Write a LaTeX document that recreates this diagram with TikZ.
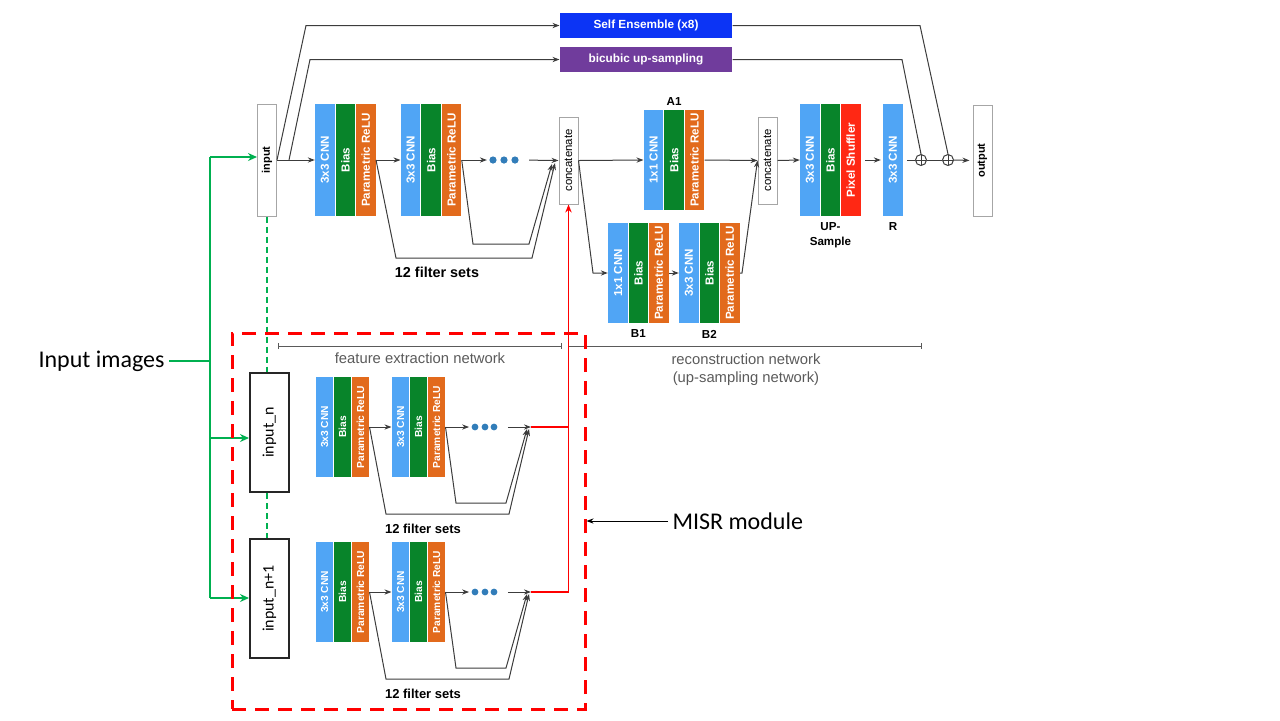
\documentclass[tikz,border=0pt]{standalone}
\usepackage{fontspec}
\setmainfont{Liberation Sans}
\newfontfamily\calib{Carlito}
\usetikzlibrary{arrows.meta,positioning,calc}

\definecolor{cnnblue}{RGB}{80,165,245}
\definecolor{biasgreen}{RGB}{8,132,42}
\definecolor{reluorange}{RGB}{226,106,28}
\definecolor{shufred}{RGB}{255,40,20}
\definecolor{ensblue}{RGB}{12,52,245}
\definecolor{bicpurple}{RGB}{112,60,156}
\definecolor{dotblue}{RGB}{50,125,185}
\definecolor{linegray}{RGB}{60,60,60}
\definecolor{markgray}{RGB}{90,90,90}
\definecolor{imggreen}{RGB}{0,176,80}

\newcommand{\vt}[1]{\rotatebox{90}{#1}}

\tikzset{
  lay/.style={minimum width=9.7pt, minimum height=56pt, inner sep=0pt, text=white,
    font=\bfseries\fontsize{5.8}{6}\selectfont},
  mid/.style={minimum height=50pt},
  small/.style={minimum width=8.5pt, minimum height=50pt, font=\bfseries\fontsize{5.1}{5.5}\selectfont},
  cnn/.style={lay, fill=cnnblue},
  bias/.style={lay, fill=biasgreen},
  relu/.style={lay, fill=reluorange},
  shuf/.style={lay, fill=shufred},
  iobox/.style={draw=black!35, minimum width=9.5pt, minimum height=43.5pt, inner sep=0pt,
    font=\fontsize{5.7}{6}\selectfont},
  topbox/.style={minimum width=86pt, minimum height=12.5pt, inner sep=0pt, text=white,
    font=\bfseries\fontsize{5.9}{6}\selectfont},
  imgbox/.style={draw=black!85, line width=1pt, minimum width=19.5pt, minimum height=59.5pt,
    inner sep=0pt, font=\calib\fontsize{8}{9}\selectfont},
  dot/.style={circle, fill=dotblue, inner sep=0pt, minimum size=3.6pt},
  plus/.style={circle, draw=linegray, inner sep=0pt, minimum size=5.5pt,
    path picture={\draw[linegray] (path picture bounding box.north) -- (path picture bounding box.south)
      (path picture bounding box.west) -- (path picture bounding box.east);}},
  lbl/.style={inner sep=0pt, font=\bfseries\fontsize{5.8}{7.5}\selectfont},
  note/.style={inner sep=0pt, text=markgray, font=\fontsize{7.4}{9}\selectfont},
  big/.style={inner sep=2pt, font=\calib\fontsize{12}{14}\selectfont},
  misr/.style={draw=red, line width=1.5pt, dash pattern=on 7pt off 4.5pt,
    minimum width=176.5pt, minimum height=188pt, inner sep=0pt},
}

\begin{document}
\begin{tikzpicture}[x=0.5pt, y=-0.5pt, line width=0.5pt, draw=linegray,
  arr/.style={-{Stealth[length=3.5pt,width=2.6pt]}},
  gline/.style={draw=imggreen, line width=0.75pt},
  garr/.style={gline, -{Stealth[length=4.5pt,width=4pt]}},
  gdash/.style={draw=imggreen, line width=0.6pt, dash pattern=on 3pt off 2pt}]
\useasboundingbox (0,0) rectangle (1280,720);

% single image path
\node[iobox, minimum height=56pt, font=\bfseries\fontsize{5.5}{6}\selectfont] (inp) at (267,160) {\vt{input}};
\node[cnn] (t1c) at (325,160) {\vt{3x3 CNN}};
\node[bias, right=0pt of t1c] (t1b) {\vt{Bias}};
\node[relu, right=0pt of t1b] (t1r) {\vt{Parametric ReLU}};
\node[cnn] (t2c) at (410.7,160) {\vt{3x3 CNN}};
\node[bias, right=0pt of t2c] (t2b) {\vt{Bias}};
\node[relu, right=0pt of t2b] (t2r) {\vt{Parametric ReLU}};
\node[dot] (t3a) at (493,160) {};
\node[dot] (t3b) at (504,160) {};
\node[dot] (t3c) at (515,160) {};
\node[iobox] (cat1) at (568.5,160.5) {\vt{concatenate}};
\node[lbl, font=\bfseries\fontsize{7.2}{8}\selectfont] (fs0) at (437,272) {12 filter sets};

\node[cnn, mid] (a1c) at (653.7,160) {\vt{1x1 CNN}};
\node[bias, mid, right=0pt of a1c] (a1b) {\vt{Bias}};
\node[relu, mid, right=0pt of a1b] (a1r) {\vt{Parametric ReLU}};
\node[lbl, above=2pt of a1b] (a1l) {A1};
\node[cnn, mid] (b1c) at (618,273) {\vt{1x1 CNN}};
\node[bias, mid, right=0pt of b1c] (b1b) {\vt{Bias}};
\node[relu, mid, right=0pt of b1b] (b1r) {\vt{Parametric ReLU}};
\node[lbl, below=3pt of b1b] (b1l) {B1};
\node[cnn, mid] (b2c) at (689,273) {\vt{3x3 CNN}};
\node[bias, mid, right=0pt of b2c] (b2b) {\vt{Bias}};
\node[relu, mid, right=0pt of b2b] (b2r) {\vt{Parametric ReLU}};
\node[lbl, below=3pt of b2b] (b2l) {B2};
\node[iobox] (cat2) at (767.5,160.5) {\vt{concatenate}};

\node[cnn] (u1c) at (810,160) {\vt{3x3 CNN}};
\node[bias, right=0pt of u1c] (u1b) {\vt{Bias}};
\node[shuf, right=0pt of u1b] (u1s) {\vt{Pixel Shuffler}};
\node[lbl, below=3pt of u1b, align=center] (upl) {UP-\\Sample};
\node[cnn] (rc) at (893,160) {\vt{3x3 CNN}};
\node[lbl, below=3pt of rc] (rl) {R};
\node[plus] (p1) at (921,160) {};
\node[plus] (p2) at (948,160) {};
\node[iobox, minimum height=55.5pt, font=\bfseries\fontsize{5.5}{6}\selectfont] (out) at (982.5,160.5) {\vt{output}};

\node[topbox, fill=ensblue] (se) at (646,25.5) {Self Ensemble (x8)};
\node[topbox, fill=bicpurple] (bic) at (646,59.5) {bicubic up-sampling};

\coordinate (bsplit) at (289,160);
\coordinate (tj1) at (555,163);
\coordinate (tj2) at (552,164);
\draw[arr] (inp.east) -- (t1c.west);
\draw[arr] (t1r.east) -- (t2c.west);
\draw[arr, shorten >=1pt] (t2r.east) -- (t3a.west);
\draw[arr, shorten <=5pt] (t3c.east) -- (cat1.west);
\draw[arr] (t1r.east) -- (396,258) -- (532,258) -- (tj1);
\draw[arr] (t2r.east) -- (473,244) -- (529,244) -- (tj2);
\draw[arr] (inp.east) -- (306,25.5) -- (se.west);
\draw[arr] (bsplit) -- (310,59.5) -- (bic.west);
\draw (se.east) -- (920,25.5) -- (p2.north);
\draw (bic.east) -- (902,59.5) -- (p1.north);
\draw[arr] (cat1.east) -- (a1c.west);
\draw[arr] (a1r.east) -- (cat2.west);
\draw[arr] (cat1.east) -- (593,273) -- (b1c.west);
\draw[arr] (b1r.east) -- (b2c.west);
\draw[arr] (b2r.east) -- (742,273) -- (cat2.west);
\draw[arr] (cat2.east) -- (u1c.west);
\draw[arr, shorten <=2pt, shorten >=1pt] (u1s.east) -- (rc.west);
\draw[shorten <=2pt] (rc.east) -- (p1.west);
\draw (p1.east) -- (p2.west);
\draw[arr, shorten >=1.5pt] (p2.east) -- (out.west);

% network ranges
\coordinate (fe1) at (278,346);
\coordinate (fe2) at (562,346);
\coordinate (rn1) at (568,346);
\coordinate (rn2) at (922,346);
\draw[markgray, {Bar[width=3pt]}-{Bar[width=3pt]}] (fe1) -- (fe2);
\draw[markgray, {Bar[width=3pt]}-{Bar[width=3pt]}] (rn1) -- (rn2);
\node[note] (fen) at (420,358) {feature extraction network};
\node[note, align=center] (rnn) at (746,370) {reconstruction network\\(up-sampling network)};

% multi image paths
\node[imgbox] (inn) at (269.5,432.5) {\vt{input\_n}};
\node[imgbox] (inn1) at (269.5,598.5) {\vt{input\_n+1}};
\foreach \n/\y in {1/427, 2/592} {
  \node[cnn, small] (ma\n) at (324.5,\y) {\vt{3x3 CNN}};
  \node[bias, small, right=0pt of ma\n] (mb\n) {\vt{Bias}};
  \node[relu, small, right=0pt of mb\n] (mr\n) {\vt{Parametric ReLU}};
  \node[cnn, small] (na\n) at (400.5,\y) {\vt{3x3 CNN}};
  \node[bias, small, right=0pt of na\n] (nb\n) {\vt{Bias}};
  \node[relu, small, right=0pt of nb\n] (nr\n) {\vt{Parametric ReLU}};
  \node[dot, minimum size=3.4pt] (da\n) at (475,\y) {};
  \node[dot, minimum size=3.4pt] (db\n) at (485,\y) {};
  \node[dot, minimum size=3.4pt] (dc\n) at (494,\y) {};
  \coordinate (j\n) at (531,\y);
  \coordinate (ka\n) at (529,\y+2);
  \coordinate (kb\n) at (527,\y+2);
  \draw[arr] (mr\n.east) -- (na\n.west);
  \draw[arr, shorten >=1pt] (nr\n.east) -- (da\n.west);
  \draw[arr, shorten <=5pt] (dc\n.east) -- (j\n);
  \draw[arr] (mr\n.east) -- (386,\y+87) -- (509,\y+87) -- (ka\n);
  \draw[arr] (nr\n.east) -- (456,\y+76) -- (506,\y+76) -- (kb\n);
  \node[lbl, font=\bfseries\fontsize{6.5}{7}\selectfont] (fs\n) at (423,\y+102) {12 filter sets};
}
\draw[red, line width=0.6pt] (j1) -- (j1 -| cat1.south);
\draw[red, line width=0.6pt, -{Stealth[length=4pt,width=3.2pt]}] (j2) -- (j2 -| cat1.south) -- (cat1.south);

% input images
\node[big, anchor=east] (inl) at (169,361) {Input images};
\coordinate (g0) at (210,157);
\coordinate (g1) at (210,438);
\coordinate (g2) at (210,598);
\draw[gline] (inl.east) -- (inl.east -| g0);
\draw[gline] (g0) -- (g2);
\draw[garr] (g0) -- (g0 -| inp.west);
\draw[garr] (g1) -- (g1 -| inn.west);
\draw[garr] (g2) -- (g2 -| inn1.west);
\draw[gdash] (inp.south) -- (inp.south |- inn.north) (inp.south |- inn.south) -- (inp.south |- inn1.north);

\node[misr] (misr) at (408.5,521) {};
\node[big, anchor=west] (mlab) at (668,521) {MISR module};
\draw[arr, draw=black] (mlab.west) -- (misr.east);
\end{tikzpicture}
\end{document}
